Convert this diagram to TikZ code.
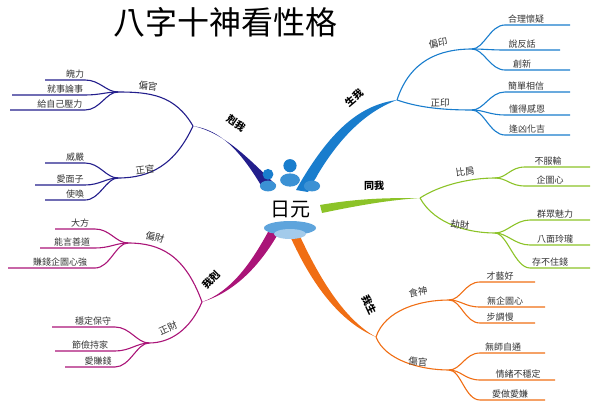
\documentclass[tikz,border=0pt]{standalone}
\usepackage{fontspec}
\setmainfont{Noto Sans CJK TC}
\begin{document}
\begin{tikzpicture}[x=1pt,y=-1pt,
  leaf/.style={font=\fontsize{9}{10}\selectfont, text=black!80, anchor=south, inner sep=1.5pt},
  mid/.style={font=\fontsize{9.5}{10}\selectfont, text=black!80, inner sep=1pt},
  main/.style={font=\bfseries\fontsize{10}{11}\selectfont, inner sep=1pt},
  br/.style={line width=1.1pt}]
\definecolor{cpu}{RGB}{35,30,140}
\definecolor{cpk}{RGB}{170,20,120}
\definecolor{cbl}{RGB}{25,125,205}
\definecolor{cgr}{RGB}{140,195,40}
\definecolor{cor}{RGB}{240,110,20}
\useasboundingbox (0,0) rectangle (600,415);
\node[font=\fontsize{32}{34}\selectfont] (title) at (225,22) {八字十神看性格};
% thick branches
\coordinate (kw) at (193,126);
\coordinate (wk) at (202,302);
\coordinate (sw) at (397,100);
\coordinate (tw) at (420,198);
\coordinate (ws) at (376,337);
\fill[cpu] (262,187) .. controls (240,150) and (220,130) .. (kw) .. controls (225,133) and (250,160) .. (276,185) -- cycle;
\fill[cpk] (268,232) .. controls (250,265) and (230,292) .. (wk) .. controls (235,292) and (260,265) .. (278,234) -- cycle;
\fill[cbl] (296,190) .. controls (330,130) and (360,105) .. (sw) .. controls (365,112) and (335,140) .. (308,192) -- cycle;
\fill[cgr] (320,205) .. controls (360,198) and (390,198) .. (tw) .. controls (390,200) and (360,205) .. (322,213) -- cycle;
\fill[cor] (298,232) .. controls (320,280) and (345,320) .. (ws) .. controls (340,322) and (312,285) .. (290,236) -- cycle;
% center
\fill[cbl!70] (290,228) ellipse (26 and 7);
\fill[cbl!40] (290,234) ellipse (16 and 5);
\foreach \x/\y/\s in {268/186/0.9,290/180/1.1,312/186/0.9}{
  \fill[cbl!85] (\x,\y) ellipse ({9*\s} and {6*\s});
  \fill[cbl] (\x,{\y-13*\s}) circle ({6*\s});}
\node[font=\fontsize{20}{22}\selectfont, fill=white, inner sep=1pt] (root) at (290,210) {日元};
\node[main, rotate=-35] (lkw) at (236,123) {剋我};
\node[main, rotate=45] (lwk) at (211,280) {我剋};
\node[main, rotate=40] (lsw) at (354,98) {生我};
\node[main] (ltw) at (374,186) {同我};
\node[main, rotate=-65] (lws) at (369,305) {我生};
% sub junctions
\coordinate (pg) at (118,92); \coordinate (zg) at (118,178);
\coordinate (pc) at (128,243); \coordinate (zc) at (149,343);
\coordinate (py) at (472,49); \coordinate (zy) at (472,110);
\coordinate (bj) at (495,178); \coordinate (jc) at (495,233);
\coordinate (ss) at (449,300); \coordinate (sg) at (449,370);
\draw[cpu,br] (kw) .. controls (175,95) and (150,92) .. (pg);
\draw[cpu,br] (kw) .. controls (175,165) and (150,178) .. (zg);
\draw[cpk,br] (wk) .. controls (185,255) and (160,243) .. (pc);
\draw[cpk,br] (wk) .. controls (190,330) and (170,343) .. (zc);
\draw[cbl,br] (sw) .. controls (410,60) and (440,49) .. (py);
\draw[cbl,br] (sw) .. controls (420,108) and (445,110) .. (zy);
\draw[cgr,br] (tw) .. controls (440,185) and (470,178) .. (bj);
\draw[cgr,br] (tw) .. controls (435,225) and (470,233) .. (jc);
\draw[cor,br] (ws) .. controls (385,310) and (420,300) .. (ss);
\draw[cor,br] (ws) .. controls (385,360) and (420,370) .. (sg);
\node[mid, rotate=-8] (tpg) at (148,86) {偏官};
\node[mid, rotate=8] (tzg) at (145,170) {正官};
\node[mid, rotate=-15] (tpc) at (155,237) {偏財};
\node[mid, rotate=25] (tzc) at (168,328) {正財};
\node[mid, rotate=10] (tpy) at (438,43) {偏印};
\node[mid] (tzy) at (440,103) {正印};
\node[mid, rotate=8] (tbj) at (465,172) {比肩};
\node[mid, rotate=-5] (tjc) at (460,225) {劫財};
\node[mid, rotate=10] (tss) at (418,292) {食神};
\node[mid, rotate=-5] (tsg) at (418,362) {傷官};
\foreach \j/\a/\b/\y/\c in {
 pg/85/45/80/cpu, pg/85/12/95/cpu, pg/85/10/110/cpu,
 zg/85/45/163/cpu, zg/85/35/185/cpu, zg/85/45/200/cpu,
 pc/95/55/229/cpk, pc/95/40/248/cpk, pc/95/8/268/cpk,
 zc/115/52/327/cpk, zc/115/55/351/cpk, zc/115/65/367/cpk}
{\draw[\c,br] (\j) .. controls +(-12,0) and (\a+15,\y) .. (\a,\y) -- (\b,\y);}
\foreach \j/\a/\b/\y/\c in {
 py/505/570/25/cbl, py/505/560/50/cbl, py/505/570/70/cbl,
 zy/505/570/92/cbl, zy/505/570/115/cbl, zy/505/570/135/cbl,
 bj/525/590/167/cgr, bj/525/590/186/cgr,
 jc/530/590/220/cgr, jc/530/590/245/cgr, jc/530/590/268/cgr,
 ss/480/535/282/cor, ss/480/545/307/cor, ss/480/535/323/cor,
 sg/480/545/353/cor, sg/480/555/380/cor, sg/480/545/400/cor}
{\draw[\c,br] (\j) .. controls +(12,0) and (\a-15,\y) .. (\a,\y) -- (\b,\y);}
\foreach \x/\y/\t in {75/80/魄力,65/95/就事論事,60/110/給自己壓力,75/163/威嚴,70/185/愛面子,75/200/使喚,
 80/229/大方,72/248/能言善道,60/268/賺錢企圖心強,93/327/穩定保守,90/351/節儉持家,98/367/愛賺錢,
 526/25/合理懷疑,522/50/說反話,522/70/創新,526/92/簡單相信,527/115/懂得感恩,527/135/逢凶化吉,
 548/167/不服輸,550/186/企圖心,555/220/群眾魅力,555/245/八面玲瓏,550/268/存不住錢,
 500/282/才藝好,505/307/無企圖心,500/323/步調慢,503/353/無師自通,518/380/情緒不穩定,510/400/愛做愛嫌}
{\node[leaf] at (\x,\y) {\t};}
\end{tikzpicture}
\end{document}
